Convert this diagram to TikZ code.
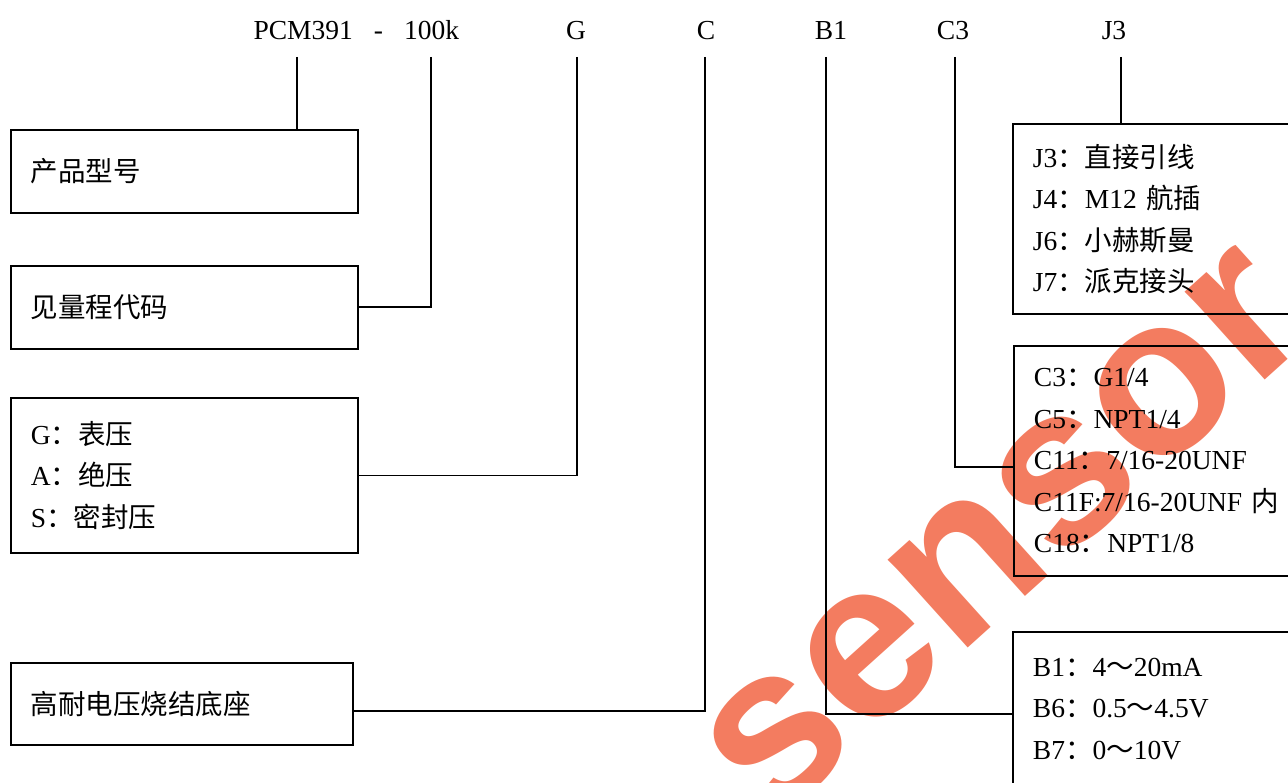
\documentclass[tikz,border=0pt]{standalone}
\usepackage{fontspec}
\setmainfont{Liberation Serif}
\newfontfamily\cjk{Noto Sans CJK SC}
\newfontfamily\wmfont{Liberation Sans}
\usepackage{tikz}
\usetikzlibrary{positioning}
\definecolor{wmred}{HTML}{EE4A22}

\tikzset{
  codebox/.style={draw,line width=1.9pt,anchor=north west,inner xsep=20pt,inner ysep=0pt,align=left},
  leftbox/.style={codebox,text width=307pt},
  rightbox/.style={codebox,text width=262pt},
  link/.style={line width=1.9pt}
}

\begin{document}
\begin{tikzpicture}[x=1pt,y=-1pt,every node/.style={font=\fontsize{27.5}{41.5}\selectfont}]
  \useasboundingbox (0,0) rectangle (1288,783);
  % watermark
  \node[rotate=42,text=wmred,opacity=0.72,font=\wmfont\bfseries\fontsize{225}{225}\selectfont] (wm) at (1005,535) {sensor};

  % code string
  \node[anchor=base west] (model) at (250,40) {PCM391\hspace{21pt}-\hspace{21pt}100k};
  \node[anchor=base] (lblG) at (576,40) {G};
  \node[anchor=base] (lblC) at (706,40) {C};
  \node[anchor=base] (lblB) at (831,40) {B1};
  \node[anchor=base] (lblC3) at (953,40) {C3};
  \node[anchor=base] (lblJ) at (1114,40) {J3};
  \coordinate (tA) at (297,57);
  \coordinate (tB) at (431,57);
  \coordinate (tC) at (577,57);
  \coordinate (tD) at (705,57);
  \coordinate (tE) at (826,57);
  \coordinate (tF) at (955,57);
  \coordinate (tG) at (1121,57);

  % left boxes
  \node[leftbox,minimum height=83pt] (prod) at (10,129) {\cjk 产品型号};
  \node[leftbox,minimum height=83pt] (range) at (10,265) {\cjk 见量程代码};
  \node[leftbox,minimum height=155pt] (ptype) at (10,397)
    {G{\cjk：表压}\\A{\cjk：绝压}\\S{\cjk：密封压}};
  \node[codebox,text width=302pt,minimum height=82pt] (base) at (10,662) {\cjk 高耐电压烧结底座};

  % right boxes
  \node[rightbox,minimum height=190pt] (wire) at (1012,123)
    {J3{\cjk：直接引线}\\J4{\cjk：}M12 {\cjk 航插}\\J6{\cjk：小赫斯曼}\\J7{\cjk：派克接头}};
  \node[rightbox,minimum height=230pt] (thread) at (1013,345)
    {C3{\cjk：}G1/4\\C5{\cjk：}NPT1/4\\C11{\cjk：}7/16-20UNF\\C11F:7/16-20UNF {\cjk 内}\\C18{\cjk：}NPT1/8};
  \node[rightbox,minimum height=154pt] (output) at (1012,631)
    {B1{\cjk：}4{\cjk～}20mA\\B6{\cjk：}0.5{\cjk～}4.5V\\B7{\cjk：}0{\cjk～}10V};

  % connectors
  \draw[link] (tA) -- (tA |- prod.north);
  \draw[link] (tB) |- (range.east);
  \draw[link] (tC) |- (ptype.east);
  \draw[link] (tD) |- ([yshift=-7pt]base.east);
  \draw[link] (tE) |- ([yshift=-5pt]output.west);
  \draw[link] (tF) |- ([yshift=-6pt]thread.west);
  \draw[link] (tG) -- (tG |- wire.north);
\end{tikzpicture}
\end{document}
